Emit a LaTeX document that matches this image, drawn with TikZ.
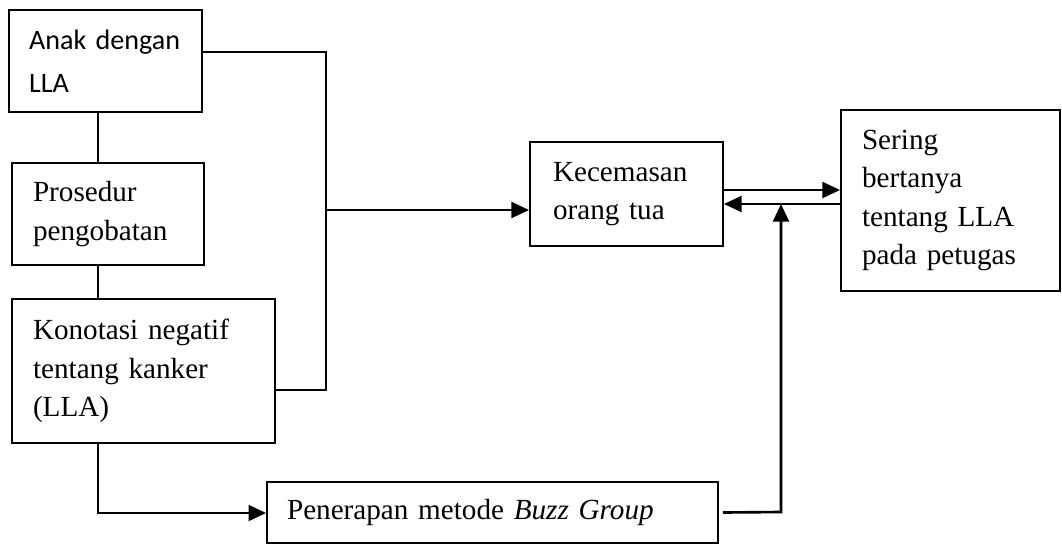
\documentclass[tikz,border=0pt]{standalone}
\usepackage{fontspec}
\setmainfont{Liberation Serif}
\newfontfamily\calibri{Carlito}
\usetikzlibrary{arrows.meta, calc}

\begin{document}
\begin{tikzpicture}[
  x=0.02cm, y=-0.02cm,
  box/.style={draw, line width=1.1pt, inner xsep=0.42cm, inner ysep=0pt, align=left, font=\fontsize{16.6}{22}\selectfont},
  link/.style={line width=1.1pt},
  arr/.style={-{Triangle[length=10pt, width=9pt]}, line width=1.5pt}
]
\useasboundingbox (0,0) rectangle (1062,545);

\node[box, font=\calibri\fontsize{16}{24.5}\selectfont, inner xsep=0.4cm, text width=3.06cm, minimum height=2.04cm] (anak) at (105.5,61) {Anak dengan\\ LLA};
\node[box, text width=3.0cm, minimum height=2.04cm] (prosedur) at (108,214) {Prosedur\\ pengobatan};
\node[box, text width=4.42cm, minimum height=2.88cm] (konotasi) at (143.5,371) {Konotasi negatif\\ tentang kanker\\ (LLA)};
\node[box, inner xsep=0.46cm, text width=2.94cm, minimum height=2.08cm] (cemas) at (626.5,194) {Kecemasan\\ orang tua};
\node[box, text width=3.54cm, minimum height=3.62cm] (sering) at (950.5,200.5) {Sering\\ bertanya\\ tentang LLA\\ pada petugas};
\node[box, inner xsep=0.4cm, text width=8.22cm, minimum height=1.22cm] (buzz) at (492.5,512.5) {Penerapan metode \textit{Buzz Group}};

\coordinate (jtop) at (326,52);
\coordinate (jmid) at (326,210);
\coordinate (jbot) at (326,390);
\coordinate (kdrop) at (98,513);
\coordinate (up) at (0,190);
\coordinate (dn) at (0,204);
\coordinate (fb) at (781,512);

% left column and bracket
\draw[link] (anak.south -| kdrop) -- (prosedur.north -| kdrop);
\draw[link] (prosedur.south -| kdrop) -- (konotasi.north -| kdrop);
\draw[link] (anak.east |- jtop) -- (jtop) -- (jbot) -- (konotasi.east |- jbot);
\draw[arr] (jmid) -- (cemas.west |- jmid);

% two-way link
\draw[arr] (cemas.east |- up) -- (sering.west |- up);
\draw[arr] (sering.west |- dn) -- (cemas.east |- dn);

% buzz group
\draw[arr] (konotasi.south -| kdrop) -- (kdrop) -- (buzz.west |- kdrop);
\draw[arr] ([xshift=0.08cm]buzz.east) -- (fb) -- (fb |- dn);
\end{tikzpicture}
\end{document}
